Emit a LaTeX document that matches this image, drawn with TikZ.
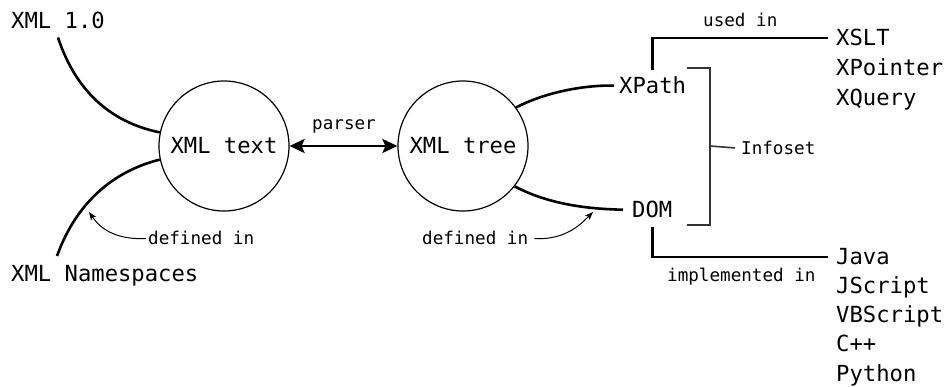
\documentclass[tikz,border=0pt]{standalone}
\usepackage{fontspec}
\usetikzlibrary{arrows.meta}
\newfontfamily\monofont{DejaVu Sans Mono}
\begin{document}
\begin{tikzpicture}[x=1pt,y=-1pt,
  big/.style={font=\monofont\fontsize{22.2}{26}\selectfont, inner sep=0pt},
  small/.style={font=\monofont\fontsize{17.6}{21}\selectfont, inner sep=0pt},
  bubble/.style={draw, circle, line width=1.2pt, minimum size=130pt, inner sep=0pt,
                 font=\monofont\fontsize{22.2}{26}\selectfont},
  link/.style={line width=2.6pt},
  note/.style={line width=1pt, -{Stealth[length=8pt,width=6pt,inset=1.5pt]}},
  bracketline/.style={line width=1.6pt, black!80},
  twoway/.style={line width=2.6pt,
     {Stealth[length=15pt,width=14pt,inset=3pt]}-{Stealth[length=15pt,width=14pt,inset=3pt]}}]
\useasboundingbox (0,0) rectangle (945,387);

% the two central states
\node[bubble] (xtext) at (224,146) {XML text};
\node[bubble] (xtree) at (463,146) {XML tree};

% labels on the left
\node[big, anchor=base west] (v10) at (11,29) {XML 1.0};
\node[big, anchor=base west] (xmlns) at (11,282) {XML Namespaces};
\coordinate (nsend) at (57,256);
\node[small, anchor=base west] (defl) at (148,245) {defined in};
\coordinate (defltip) at (89,212);

% parser
\node[small, anchor=base] (parser) at (344,130) {parser};
\draw[twoway] (xtext.east) -- (xtree.west);

% right-hand APIs
\node[big, anchor=base west] (xpath) at (619,94) {XPath};
\node[big, anchor=base west] (dom) at (632,218) {DOM};
\node[small, anchor=base west] (defr) at (422,245) {defined in};
\coordinate (defrtip) at (593,212);

% infoset bracket
\node[small, anchor=base west] (infoset) at (741,155) {Infoset};
\coordinate (brk) at (710,146);

% consumers of XPath
\node[small, anchor=base west] (usedin) at (703,27) {used in};
\node[big, anchor=base west] (xslt) at (836,46) {XSLT};
\node[big, anchor=base west] (xpointer) at (836,76) {XPointer};
\node[big, anchor=base west] (xquery) at (836,106) {XQuery};

% DOM implementations
\node[small, anchor=base west] (implin) at (667,282) {implemented in};
\node[big, anchor=base west] (java) at (836,265) {Java};
\node[big, anchor=base west] (jscript) at (836,294) {JScript};
\node[big, anchor=base west] (vbscript) at (836,323) {VBScript};
\node[big, anchor=base west] (cpp) at (836,352) {C++};
\node[big, anchor=base west] (python) at (836,381) {Python};

% connectors on the left
\draw[link] ([yshift=-8pt]v10.south) .. controls (78,98) and (118,124) .. (xtext.168);
\draw[link] (xtext.192) .. controls (118,170) and (78,198) .. (nsend);
\draw[note, shorten <=2pt] (defl.west) .. controls (115,240) and (100,228) .. (defltip);

% connectors on the right
\draw[link, shorten >=5pt] (xtree.36) .. controls (550,90) and (590,85) .. (xpath.west);
\draw[link, shorten >=9pt] (xtree.-38) .. controls (550,205) and (590,209) .. (dom.west);
\draw[note, shorten <=6pt] (defr.east) .. controls (565,240) and (580,225) .. (defrtip);

% bracket grouping XPath and DOM
\draw[bracketline] (687,68) -| (710,225) -- (687,225);
\draw[bracketline, shorten >=6pt] (brk) -- (infoset.west);

% elbow links
\draw[link, shorten <=7pt, shorten >=8pt] (xpath.north) |- (xslt.west);
\draw[link, shorten <=8pt, shorten >=8pt] (dom.south) |- (java.west);
\end{tikzpicture}
\end{document}
